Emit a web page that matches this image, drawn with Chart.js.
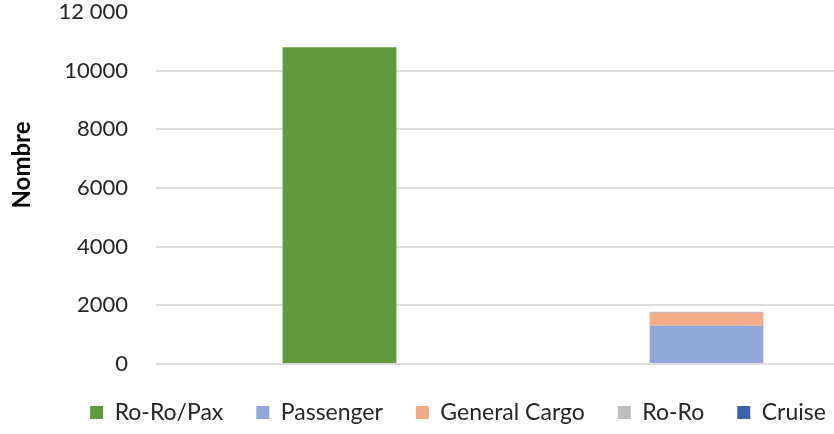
<!DOCTYPE html>
<html><head><meta charset="utf-8">
<script src="https://cdn.jsdelivr.net/npm/chart.js@4/dist/chart.umd.min.js"></script>
<style>html,body{margin:0;padding:0;overflow:hidden;background:#fff}#wrap{width:892px;height:434px;position:relative}</style>
</head><body><div id="wrap"><canvas id="c"></canvas></div>
<script>
const categories = ['Catégorie A', 'Catégorie B'];
const seriesNames = ['Ro-Ro/Pax', 'Passenger', 'General Cargo', 'Ro-Ro', 'Cruise'];
const roRoPax = [10800, 0];
const passenger = [0, 1300];
const generalCargo = [0, 440];
const roRo = [0, 40];
const cruise = [0, 5];
const yTickValues = [0, 2000, 4000, 6000, 8000, 10000, 12000];
const yTickLabels = ['0', '2000', '4000', '6000', '8000', '10000', '12 000'];
const seriesColors = ['#629b3e', '#8fa7d9', '#f2aa88', '#bfbfbf', '#3a62ad'];

const seriesValues = [roRoPax, passenger, generalCargo, roRo, cruise];

const yTitlePlugin = {
  id: 'yTitle',
  afterDraw(chart) {
    const ctx = chart.ctx;
    ctx.save();
    ctx.translate(22, 165);
    ctx.rotate(-Math.PI / 2);
    ctx.font = 'bold 24px Lato';
    ctx.fillStyle = '#000';
    ctx.textAlign = 'center';
    ctx.textBaseline = 'middle';
    ctx.fillText('Nombre', 0, 0);
    ctx.restore();
  }
};

new Chart(document.getElementById('c'), {
  type: 'bar',
  data: {
    labels: categories,
    datasets: seriesNames.map((name, i) => ({
      label: name,
      data: seriesValues[i],
      backgroundColor: seriesColors[i],
      borderWidth: 0,
      categoryPercentage: 1,
      barPercentage: 0.31
    }))
  },
  options: {
    responsive: true,
    maintainAspectRatio: false,
    animation: false,
    layout: { padding: { top: 12, right: 2, bottom: 0, left: 26 } },
    plugins: {
      legend: {
        position: 'bottom',
        labels: {
          boxWidth: 13, boxHeight: 13, padding: 33,
          color: '#262626',
          font: { family: 'Lato', size: 23 }
        }
      },
      tooltip: { enabled: false }
    },
    scales: {
      x: {
        stacked: true,
        ticks: { display: false },
        grid: { display: false },
        border: { display: false },
        afterFit(s) { s.height = 4; }
      },
      y: {
        stacked: true,
        min: 0, max: 12000,
        afterBuildTicks(s) { s.ticks = yTickValues.map(v => ({ value: v })); },
        ticks: {
          padding: 28,
          color: '#262626',
          font: { family: 'Lato', size: 22 },
          callback(v) { const i = yTickValues.indexOf(v); return i >= 0 ? yTickLabels[i] : ''; }
        },
        grid: {
          drawTicks: false,
          lineWidth: 2,
          color(c) { return c.tick && c.tick.value === 12000 ? 'rgba(0,0,0,0)' : '#dedede'; }
        },
        border: { display: false },
        afterFit(s) { s.width = 130; s.paddingTop = 0; s.paddingBottom = 0; }
      }
    }
  },
  plugins: [yTitlePlugin]
});
</script></body></html>
